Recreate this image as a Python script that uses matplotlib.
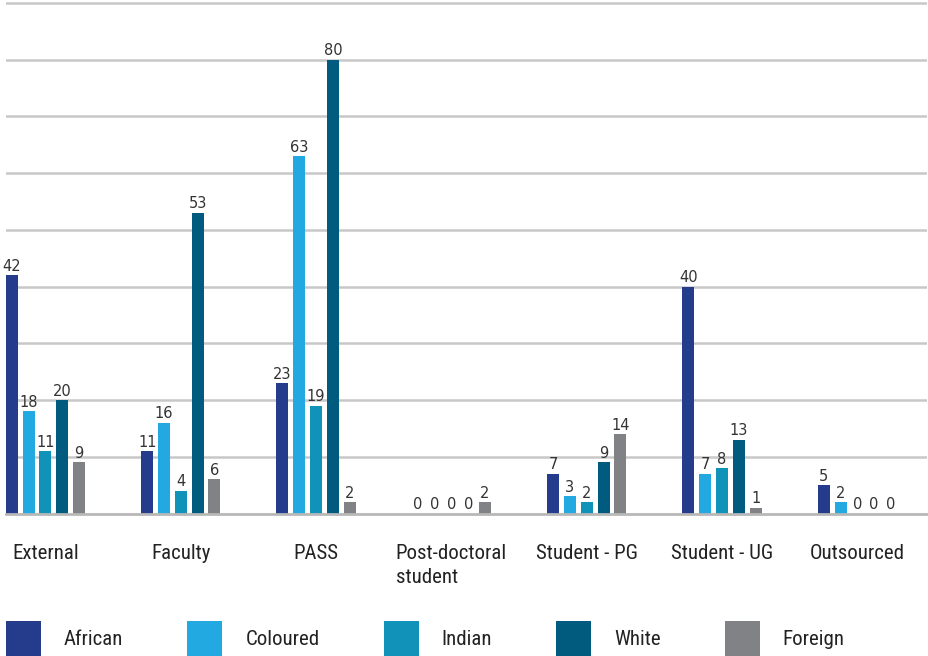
import matplotlib
matplotlib.use("Agg")
import matplotlib.pyplot as plt
from matplotlib import font_manager as fm
import numpy as np

categories = ["External", "Faculty", "PASS", "Post-doctoral\nstudent",
              "Student - PG", "Student - UG", "Outsourced"]
series_names = ["African", "Coloured", "Indian", "White", "Foreign"]
african = [42, 11, 23, 0, 7, 40, 5]
coloured = [18, 16, 63, 0, 3, 7, 2]
indian = [11, 4, 19, 0, 2, 8, 0]
white = [20, 53, 80, 0, 9, 13, 0]
foreign = [9, 6, 2, 2, 14, 1, 0]
series_values = [african, coloured, indian, white, foreign]
colors = ["#253c8c", "#23a9e1", "#1192b8", "#005b7f", "#808285"]

# pick a condensed font if one is installed
names = {f.name for f in fm.fontManager.ttflist}
if "Roboto Condensed" in names:
    cat_font = dict(family=["Roboto Condensed", "DejaVu Sans"], size=15)
elif "Liberation Sans Narrow" in names:
    cat_font = dict(family=["Liberation Sans Narrow", "DejaVu Sans"], size=15)
else:
    cat_font = dict(family=["DejaVu Sans"], size=12)

W, H = 929, 656
fig = plt.figure(figsize=(W / 100, H / 100), dpi=100)

px_per_unit_y = 5.672
ymax = 91
ax_left, ax_right = 6, 927
ax_bottom = 513.5
ax_top = ax_bottom - ymax * px_per_unit_y
ax = fig.add_axes([ax_left / W, (H - ax_bottom) / H,
                   (ax_right - ax_left) / W, (ax_bottom - ax_top) / H])

px_per_unit_x = 135.3
xmin = -39.5 / px_per_unit_x
xmax = xmin + (ax_right - ax_left) / px_per_unit_x
ax.set_xlim(xmin, xmax)
ax.set_ylim(0, ymax)

x = np.arange(len(categories))
pitch = 16.8 / px_per_unit_x
bw = 12 / px_per_unit_x
handles = []
for i, (name, vals, c) in enumerate(zip(series_names, series_values, colors)):
    bars = ax.bar(x + (i - 2) * pitch, vals, width=bw, color=c, label=name, zorder=3)
    ax.bar_label(bars, labels=[str(v) for v in vals], padding=1, fontsize=10.5,
                 color="#333333", zorder=4)
    handles.append(bars)

ax.set_yticks(np.arange(10, 91, 10))
ax.yaxis.grid(True, color="#c8c8c8", linewidth=1.8, zorder=0)
ax.tick_params(axis="y", left=False, labelleft=False)
for s in ["left", "right", "top"]:
    ax.spines[s].set_visible(False)
ax.spines["bottom"].set_color("#b8b8b8")
ax.spines["bottom"].set_linewidth(2)
ax.spines["bottom"].set_zorder(5)

ax.set_xticks(x)
ax.set_xticklabels(categories, color="#222222", va="top", **cat_font)
for t in ax.get_xticklabels():
    t.set_multialignment("left")
    t.set_linespacing(1.35)
ax.tick_params(axis="x", length=0, pad=22)

fs_px = cat_font["size"] * 100 / 72
hh = (35 / fs_px - 0.245) / 0.65
leg_prop = fm.FontProperties(family=cat_font["family"], size=cat_font["size"])
leg = fig.legend(handles=handles, labels=series_names, loc="lower left",
                 bbox_to_anchor=(6 / W, 0), ncol=5, frameon=False,
                 prop=leg_prop,
                 handlelength=35 / fs_px, handleheight=hh,
                 handletextpad=23 / fs_px, columnspacing=64 / fs_px,
                 borderpad=0, borderaxespad=0)
for t in leg.get_texts():
    t.set_color("#222222")

fig.savefig("out.png", dpi=100)
